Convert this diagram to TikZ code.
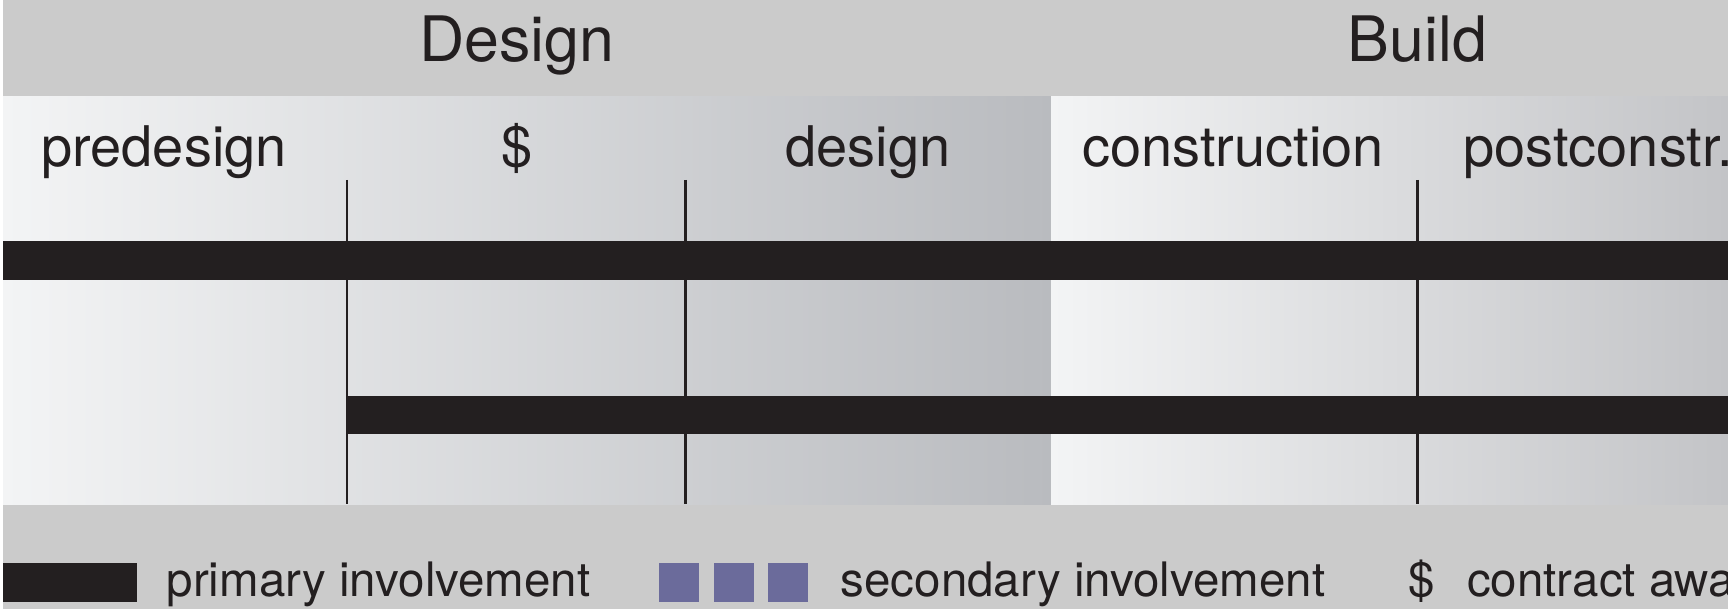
\documentclass[tikz,border=0pt]{standalone}
\usepackage{fontspec}
\setmainfont{TeX Gyre Heros}
\definecolor{ink}{HTML}{231F20}
\definecolor{band}{HTML}{CBCBCB}
\definecolor{gradL}{HTML}{F3F4F5}
\definecolor{gradR}{HTML}{B9BBBF}
\definecolor{gradB}{HTML}{C3C4C7}
\definecolor{sec}{HTML}{6B6B9B}
\tikzset{
  head/.style={inner sep=0pt, anchor=base, text=ink, font=\fontsize{62.7}{70}\selectfont},
  phase/.style={inner sep=0pt, anchor=base, text=ink, font=\fontsize{56}{64}\selectfont},
  legtext/.style={inner sep=0pt, anchor=base west, text=ink, font=\fontsize{47.5}{54}\selectfont},
  bar/.style={fill=ink, draw=none},
  divider/.style={draw=ink, line width=2.8pt},
  secbox/.style={fill=sec, draw=none}
}
\begin{document}
\begin{tikzpicture}[x=1pt,y=-1pt]
\useasboundingbox (0,0) rectangle (1728,609);
\fill[white] (0,0) rectangle (1728,609);
% background bands
\fill[band] (3,0) rectangle (1728,609);
% design panel gradient
\shade[left color=gradL, right color=gradR, draw=none] (3,97) rectangle (1051,504);
% build panel gradient
\shade[left color=gradL, right color=gradB, draw=none] (1051,97) rectangle (1728,504);
% dividers
\coordinate (d1t) at (347,180); \coordinate (d1b) at (347,504);
\coordinate (d2t) at (685.5,180); \coordinate (d2b) at (685.5,504);
\coordinate (d3t) at (1417.5,180); \coordinate (d3b) at (1417.5,504);
\draw[divider] (d1t) -- (d1b);
\draw[divider] (d2t) -- (d2b);
\draw[divider] (d3t) -- (d3b);
% bars
\fill[bar] (3,241) rectangle (1728,280);
\fill[bar] (347,396) rectangle (1728,434);
% headings
\node[head] (design) at (517,62) {Design};
\node[head] (build) at (1417.5,62) {Build};
% phases
\node[phase] (pre) at (164,167) {predesign};
\node[phase] (dollar) at (517,167) {\$};
\node[phase] (des) at (868,167) {design};
\node[phase] (con) at (1233,167) {construction};
\node[phase, anchor=base west] (post) at (1463,167) {postconstr.};
% legend
\fill[bar] (3,563) rectangle (137,602);
\node[legtext] (prim) at (166.5,596.5) {primary involvement};
\fill[secbox] (659,563) rectangle (699,602);
\fill[secbox] (714,563) rectangle (754,602);
\fill[secbox] (768,563) rectangle (808,602);
\node[legtext] (secl) at (840.5,596.5) {secondary involvement};
\node[legtext, anchor=base] (ldollar) at (1422,596.5) {\$};
\node[legtext] (award) at (1467,596.5) {contract awarded};
\end{tikzpicture}
\end{document}
